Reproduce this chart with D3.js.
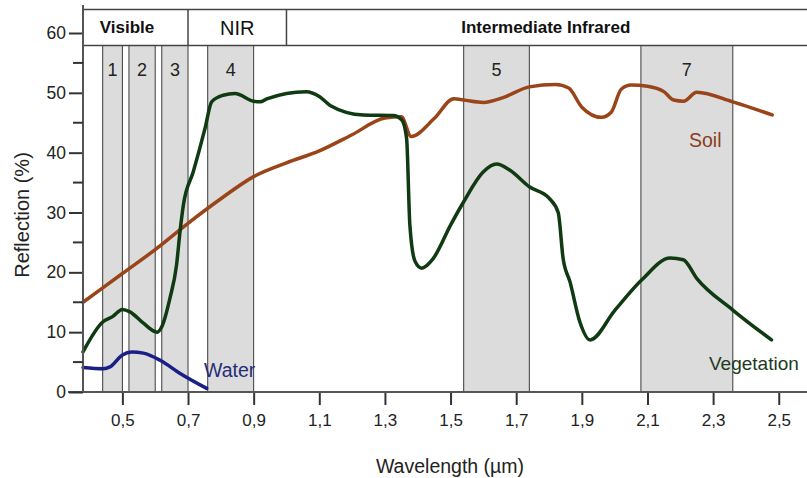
<!DOCTYPE html>
<html>
<head>
<meta charset="utf-8">
<script src="https://cdn.jsdelivr.net/npm/d3@7"></script>
<style>
  body { margin: 0; background: #fff; }
  svg { font-family: "Liberation Sans", Arial, sans-serif; }
</style>
</head>
<body>
<svg id="chart" width="807" height="478" viewBox="0 0 807 478"></svg>
<script>
// spectral bands (µm)
const bands = [
    {name: "1", from: 0.44, to: 0.50},
    {name: "2", from: 0.52, to: 0.60},
    {name: "3", from: 0.62, to: 0.70},
    {name: "4", from: 0.76, to: 0.90},
    {name: "5", from: 1.54, to: 1.74},
    {name: "7", from: 2.08, to: 2.36}
]
// regions in the header strip
const regions = [
    {name: "Visible", from: 0.38, to: 0.70, bold: true},
    {name: "NIR", from: 0.70, to: 1.00, bold: false},
    {name: "Intermediate Infrared", from: 1.00, to: 2.58, bold: true}
]
const xTicks = [0.5, 0.7, 0.9, 1.1, 1.3, 1.5, 1.7, 1.9, 2.1, 2.3, 2.5]
const yTicks = [0, 10, 20, 30, 40, 50, 60]
const yMinor = [5, 15, 25, 35, 45, 55]

// [wavelength, reflection %]
const soil = [
    [0.38, 15.0], [0.50, 19.8], [0.60, 23.8], [0.70, 28.2], [0.80, 32.3],
    [0.90, 36.0], [1.00, 38.3], [1.10, 40.3], [1.20, 43.0], [1.30, 45.8],
    [1.35, 46.0], [1.38, 42.7], [1.45, 45.7], [1.51, 49.0], [1.54, 48.8],
    [1.60, 48.4], [1.66, 49.2], [1.74, 51.0], [1.82, 51.4], [1.86, 50.8],
    [1.90, 47.6], [1.96, 45.9], [1.99, 46.8], [2.02, 50.6], [2.05, 51.3],
    [2.10, 51.1], [2.15, 50.2], [2.18, 48.8], [2.21, 48.6], [2.25, 50.1],
    [2.36, 48.5], [2.48, 46.3]
]
const vegetation = [
    [0.38, 6.7], [0.44, 11.7], [0.47, 12.6], [0.50, 13.8], [0.523, 13.4],
    [0.564, 11.5], [0.606, 10.0], [0.62, 10.9], [0.645, 15.7], [0.665, 21.2],
    [0.676, 27.0], [0.686, 31.3], [0.716, 36.8], [0.752, 44.1], [0.772, 48.5],
    [0.807, 49.6], [0.843, 49.9], [0.90, 48.6], [0.92, 48.5], [0.94, 49.0],
    [1.06, 50.2], [1.10, 49.4], [1.133, 47.9], [1.234, 46.3], [1.325, 46.2],
    [1.351, 45.5], [1.366, 42.4], [1.376, 27.9], [1.392, 21.8], [1.412, 20.7],
    [1.447, 22.3], [1.50, 27.9], [1.54, 31.8], [1.60, 36.8], [1.64, 38.1],
    [1.68, 37.1], [1.74, 34.3], [1.80, 32.4], [1.828, 30.0], [1.843, 22.3],
    [1.864, 18.4], [1.894, 11.7], [1.925, 8.7], [2.00, 13.6], [2.082, 18.7],
    [2.169, 22.4], [2.209, 22.1], [2.25, 19.0], [2.36, 13.7], [2.478, 8.7]
]
const water = [
    [0.38, 4.1], [0.442, 3.9], [0.462, 4.2], [0.50, 6.2], [0.528, 6.7],
    [0.564, 6.5], [0.615, 5.3], [0.676, 3.1], [0.757, 0.6]
]

const svg = d3.select("#chart")
const x = d3.scaleLinear().domain([0.38, 2.58]).range([83, 805])
const y = d3.scaleLinear().domain([0, 60]).range([392, 33])
const headTop = 9.5, headBottom = 45.5

// grey band columns
let band_g = svg.append("g")
band_g.selectAll("rect")
    .data(bands)
    .enter()
    .append("rect")
    .attr("x", d => x(d.from))
    .attr("width", d => x(d.to) - x(d.from))
    .attr("y", headBottom)
    .attr("height", y(0) - headBottom)
    .attr("fill", "#dcdcdc")
    .attr("stroke", "#3a3a3a")
    .attr("stroke-width", 1)
band_g.selectAll("text")
    .data(bands)
    .enter()
    .append("text")
    .attr("x", d => (x(d.from) + x(d.to)) / 2)
    .attr("y", 76)
    .attr("text-anchor", "middle")
    .attr("font-size", 18)
    .attr("fill", "#222")
    .text(d => d.name)

// header strip
let head_g = svg.append("g")
head_g.selectAll("line.div")
    .data(regions.slice(1))
    .enter()
    .append("line")
    .attr("x1", d => x(d.from)).attr("x2", d => x(d.from))
    .attr("y1", headTop).attr("y2", headBottom)
    .attr("stroke", "#444").attr("stroke-width", 1.5)
head_g.append("line")
    .attr("x1", x(0.38)).attr("x2", 807)
    .attr("y1", headTop).attr("y2", headTop)
    .attr("stroke", "#444").attr("stroke-width", 1.5)
head_g.append("line")
    .attr("x1", x(0.38)).attr("x2", 807)
    .attr("y1", headBottom).attr("y2", headBottom)
    .attr("stroke", "#444").attr("stroke-width", 1.5)
head_g.selectAll("text")
    .data(regions)
    .enter()
    .append("text")
    .attr("x", d => d.name === "Visible" ? 127 : (x(d.from) + Math.min(x(d.to), 807)) / 2)
    .attr("y", d => d.bold ? 33 : 35)
    .attr("text-anchor", "middle")
    .attr("font-size", d => d.bold ? 17 : 20)
    .attr("font-weight", d => d.bold ? "bold" : "normal")
    .attr("fill", "#111")
    .text(d => d.name)

// curves
const line = d3.line()
    .x(d => x(d[0]))
    .y(d => y(d[1]))
    .curve(d3.curveMonotoneX)
const series = [
    {data: soil, color: "#9a4419"},
    {data: vegetation, color: "#0f3a12"},
    {data: water, color: "#1a1f86"}
]
svg.append("g").selectAll("path")
    .data(series)
    .enter()
    .append("path")
    .attr("d", d => line(d.data))
    .attr("fill", "none")
    .attr("stroke", d => d.color)
    .attr("stroke-width", 3.5)
    .attr("stroke-linejoin", "round")
    .attr("stroke-linecap", "round")

// series labels
svg.append("text").attr("x", 204).attr("y", 377).attr("font-size", 19.5)
    .attr("fill", "#252d78").text("Water")
svg.append("text").attr("x", 689).attr("y", 147).attr("font-size", 19.5)
    .attr("fill", "#8a3d1c").text("Soil")
svg.append("text").attr("x", 709).attr("y", 370).attr("font-size", 19)
    .attr("fill", "#1d3a1d").text("Vegetation")

// axes
let xAxis = svg.append("g")
    .attr("transform", `translate(0,${y(0)})`)
    .call(d3.axisBottom(x).tickValues(xTicks).tickSize(13).tickPadding(9)
        .tickFormat(d => d3.format(".1f")(d).replace(".", ",")))
xAxis.select(".domain").remove()
xAxis.append("line").attr("x1", 68).attr("x2", 807)
    .attr("stroke", "#555").attr("stroke-width", 2)
xAxis.selectAll(".tick line").attr("stroke", "#333").attr("stroke-width", 2)
xAxis.selectAll(".tick text").attr("font-size", 17).attr("fill", "#222")
    .attr("font-family", "Liberation Sans, Arial, sans-serif")

let yAxis = svg.append("g")
    .attr("transform", `translate(${x(0.38)},0)`)
    .call(d3.axisLeft(y).tickValues(yTicks).tickSize(14).tickPadding(3))
yAxis.select(".domain").remove()
yAxis.append("line").attr("y1", 5).attr("y2", y(0))
    .attr("stroke", "#555").attr("stroke-width", 2)
yAxis.selectAll(".tick line").attr("stroke", "#333").attr("stroke-width", 2)
yAxis.selectAll(".tick text").attr("font-size", 17.5).attr("fill", "#222")
    .attr("font-family", "Liberation Sans, Arial, sans-serif")
yAxis.selectAll(".minor")
    .data(yMinor)
    .enter()
    .append("line")
    .attr("x1", -10).attr("x2", 0)
    .attr("y1", d => y(d)).attr("y2", d => y(d))
    .attr("stroke", "#333").attr("stroke-width", 2)

// axis titles
svg.append("text")
    .attr("x", 450).attr("y", 473)
    .attr("text-anchor", "middle")
    .attr("font-size", 19.5)
    .attr("fill", "#222")
    .text("Wavelength (µm)")
svg.append("text")
    .attr("transform", "translate(29,215) rotate(-90)")
    .attr("text-anchor", "middle")
    .attr("font-size", 20)
    .attr("fill", "#222")
    .text("Reflection (%)")
</script>
</body>
</html>
